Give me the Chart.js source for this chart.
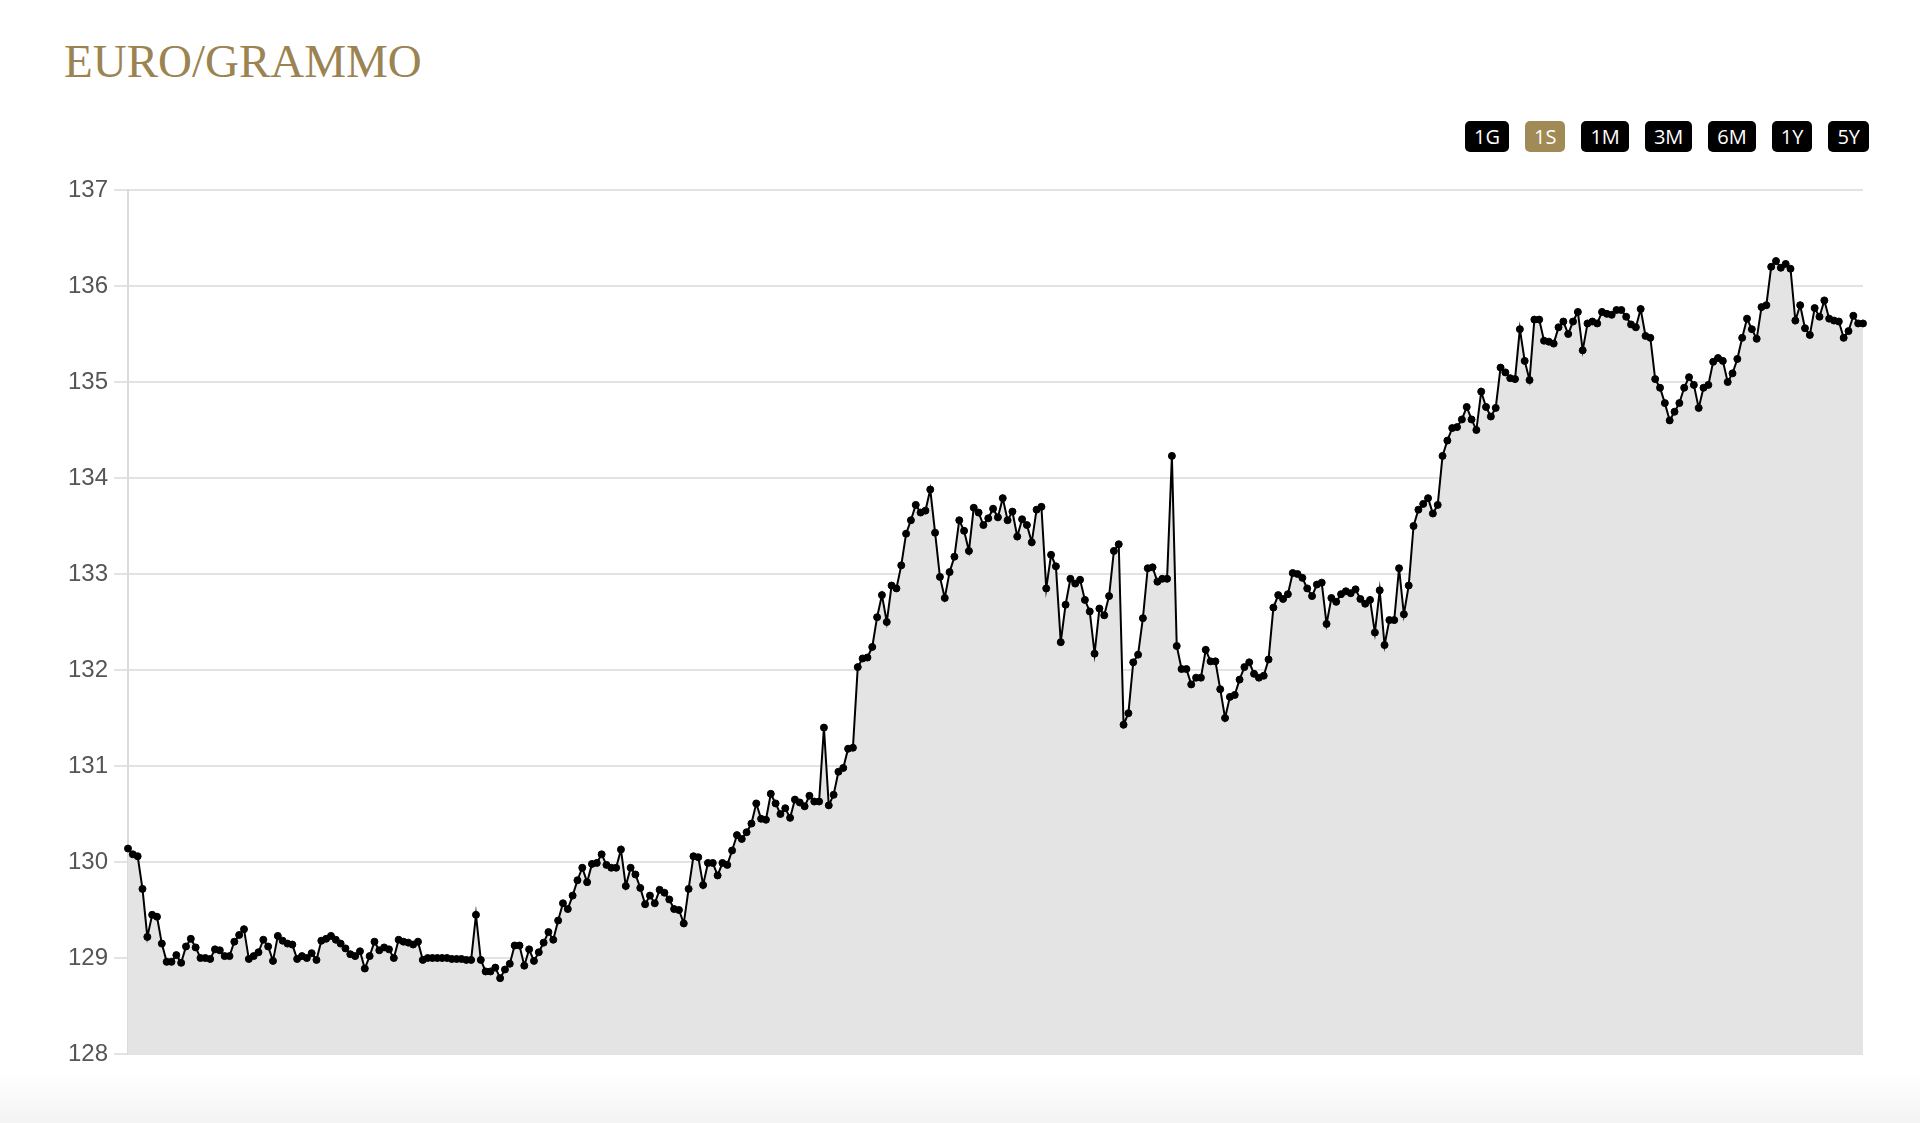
<!DOCTYPE html>
<html>
<head>
<meta charset="utf-8">
<script src="https://cdn.jsdelivr.net/npm/chart.js@4/dist/chart.umd.min.js"></script>
<style>
  html, body { margin: 0; padding: 0; background: #fff; width: 1920px; height: 1123px; overflow: hidden; }
  #title {
    position: absolute; left: 64px; top: 38px;
    font-family: "Liberation Serif", "DejaVu Serif", serif;
    font-size: 47px; line-height: 47px; color: #9b8352;
  }
  #ranges {
    position: absolute; right: 51px; top: 121px;
    display: flex; gap: 16px;
  }
  #ranges span {
    display: block; height: 31px; line-height: 31px; padding: 0 9px;
    border-radius: 5px; background: #000; color: #fff;
    font-family: "Open Sans", sans-serif; font-size: 20px;
  }
  #ranges span.on { background: #a08a55; }
  #wrap { position: absolute; left: 0; top: 0; width: 1920px; height: 1123px; }
  #fade { position: absolute; left: 0; right: 0; bottom: 0; height: 50px;
    background: linear-gradient(#fff, #f3f3f3); }
</style>
</head>
<body>
<div id="fade"></div>
<div id="title">EURO/GRAMMO</div>
<div id="ranges"></div>
<div id="wrap"><canvas id="chart"></canvas></div>
<script>
const ranges = ["1G", "1S", "1M", "3M", "6M", "1Y", "5Y"];
const activeRange = "1S";

const yTicks = [128, 129, 130, 131, 132, 133, 134, 135, 136, 137];

const prices = [
  130.14, 130.08, 130.06, 129.72, 129.22, 129.45, 129.43, 129.15, 128.96, 128.96,
  129.03, 128.95, 129.12, 129.20, 129.11, 129.00, 129.00, 128.99, 129.09, 129.08,
  129.02, 129.02, 129.17, 129.24, 129.30, 128.99, 129.02, 129.06, 129.19, 129.12,
  128.97, 129.23, 129.18, 129.15, 129.14, 128.99, 129.02, 129.00, 129.05, 128.98,
  129.18, 129.20, 129.23, 129.19, 129.15, 129.10, 129.04, 129.02, 129.07, 128.89,
  129.02, 129.17, 129.08, 129.11, 129.09, 129.00, 129.19, 129.17, 129.16, 129.14,
  129.17, 128.98, 129.00, 129.00, 129.00, 129.00, 129.00, 128.99, 128.99, 128.99,
  128.98, 128.98, 129.45, 128.98, 128.86, 128.86, 128.90, 128.79, 128.88, 128.94,
  129.13, 129.13, 128.92, 129.09, 128.97, 129.06, 129.16, 129.27, 129.19, 129.39,
  129.57, 129.51, 129.65, 129.81, 129.94, 129.79, 129.98, 129.99, 130.08, 129.97,
  129.94, 129.94, 130.13, 129.75, 129.94, 129.87, 129.73, 129.56, 129.65, 129.57,
  129.71, 129.68, 129.61, 129.51, 129.50, 129.36, 129.72, 130.06, 130.05, 129.76,
  129.99,
  129.99, 129.86, 129.99, 129.97, 130.12, 130.28, 130.24, 130.31, 130.40, 130.61,
  130.45, 130.44, 130.71, 130.61, 130.50, 130.56, 130.46, 130.65, 130.62, 130.58,
  130.69, 130.63, 130.63, 131.40, 130.59, 130.70, 130.94, 130.98, 131.18, 131.19,
  132.03, 132.12, 132.13, 132.24,
  132.55, 132.78, 132.50, 132.88, 132.85,
  133.09, 133.42, 133.56, 133.72, 133.64, 133.66, 133.88, 133.43, 132.97, 132.75,
  133.02, 133.18, 133.56, 133.45, 133.24, 133.69, 133.64, 133.51, 133.58, 133.68,
  133.59, 133.79, 133.56, 133.65, 133.39, 133.57, 133.51, 133.33, 133.67, 133.70,
  132.85, 133.20, 133.08, 132.29, 132.68, 132.95, 132.90, 132.94, 132.73, 132.61,
  132.17, 132.64,
  132.57, 132.77, 133.24, 133.31, 131.43, 131.55, 132.08, 132.16, 132.54, 133.06,
  133.07, 132.92, 132.95, 132.95, 134.23, 132.25, 132.01, 132.01, 131.85, 131.92,
  131.92, 132.21, 132.09, 132.09, 131.80, 131.50, 131.72, 131.74, 131.90, 132.03,
  132.08, 131.96, 131.92, 131.94, 132.11, 132.65, 132.78, 132.74, 132.79, 133.01,
  133.00, 132.96, 132.85, 132.77, 132.89, 132.91, 132.48, 132.75, 132.71, 132.79,
  132.82, 132.80, 132.84, 132.74, 132.69, 132.73, 132.39, 132.83, 132.26, 132.52,
  132.52, 133.06, 132.58, 132.88, 133.50, 133.67, 133.73, 133.79, 133.63, 133.72,
  134.23, 134.39, 134.52, 134.53, 134.61, 134.74, 134.61, 134.50, 134.90, 134.74,
  134.64, 134.73, 135.15, 135.10, 135.04, 135.03, 135.55, 135.22, 135.02, 135.65,
  135.65, 135.43, 135.42, 135.40, 135.57, 135.63, 135.50, 135.63, 135.73, 135.33,
  135.61, 135.63, 135.61, 135.73, 135.71, 135.70, 135.75, 135.75, 135.68, 135.60,
  135.57, 135.76, 135.48, 135.46, 135.03, 134.94, 134.78, 134.60, 134.69, 134.78,
  134.94, 135.05, 134.97, 134.73, 134.94, 134.97, 135.21, 135.25, 135.22, 135.00,
  135.09, 135.24, 135.46, 135.66, 135.55, 135.45, 135.78, 135.80, 136.20, 136.26,
  136.19, 136.23, 136.18, 135.64, 135.80, 135.56, 135.49, 135.77, 135.68, 135.85,
  135.66, 135.64, 135.63, 135.46, 135.53, 135.69, 135.61, 135.61
];

// no dates are printed on the x axis, so the labels are just positions
const labels = prices.map((_, i) => String(i + 1));

const bar = document.getElementById("ranges");
ranges.forEach(r => {
  const s = document.createElement("span");
  s.textContent = r;
  if (r === activeRange) s.className = "on";
  bar.appendChild(s);
});

const ctx = document.getElementById("chart");

new Chart(ctx, {
  type: "line",
  data: {
    labels: labels,
    datasets: [{
      data: prices,
      borderColor: "#000",
      borderWidth: 2,
      backgroundColor: "#e4e4e4",
      fill: "start",
      tension: 0,
      pointRadius: 3.5,
      pointBorderWidth: 1,
      pointBackgroundColor: "#000",
      pointBorderColor: "#000"
    }]
  },
  options: {
    responsive: true,
    maintainAspectRatio: false,
    animation: false,
    layout: { padding: { top: 190, right: 57, bottom: 69, left: 0 } },
    plugins: { legend: { display: false }, tooltip: { enabled: false } },
    scales: {
      x: { display: false, offset: false },
      y: {
        min: yTicks[0],
        max: yTicks[yTicks.length - 1],
        afterBuildTicks: s => { s.ticks = yTicks.map(v => ({ value: v })); },
        afterFit: s => { s.width = 128; },
        ticks: {
          color: "#555",
          padding: 6,
          font: { family: "Liberation Sans", size: 24 }
        },
        grid: { color: "#e3e3e3", lineWidth: 2, tickLength: 14 },
        border: { color: "#dcdcdc", width: 2 }
      }
    }
  }
});
</script>
</body>
</html>
